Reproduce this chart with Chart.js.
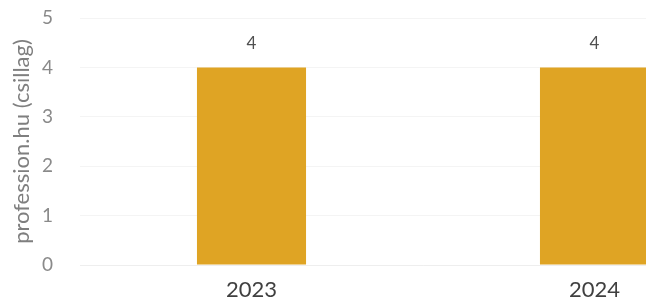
<!DOCTYPE html>
<html>
<head>
<meta charset="utf-8">
<script src="https://cdn.jsdelivr.net/npm/chart.js@4"></script>
<style>
    html, body { margin: 0; padding: 0; background: #fff; overflow: hidden; }
    #wrap { width: 780px; height: 298px; }
</style>
</head>
<body>
<div id="wrap"><canvas id="chart" width="780" height="298"></canvas></div>
<script>
// ─── Data ───
const years = ['2023', '2024'];
const stars = [4, 4];
const yTicks = [0, 1, 2, 3, 4, 5];

const BAR_COLOR = '#DFA424';
const FONT = "Lato, 'Open Sans', sans-serif";

// value labels above the bars
const valueLabels = {
    id: 'valueLabels',
    afterDatasetsDraw: (chart) => {
        const { ctx } = chart;
        const meta = chart.getDatasetMeta(0);
        ctx.save();
        ctx.font = '17px ' + FONT;
        ctx.fillStyle = '#505050';
        ctx.textAlign = 'center';
        ctx.textBaseline = 'middle';
        meta.data.forEach((bar, i) => {
            ctx.fillText(stars[i], bar.x, bar.y - 24);
        });
        ctx.restore();
    },
};

new Chart(document.getElementById('chart'), {
    type: 'bar',
    data: {
        labels: years,
        datasets: [{
            data: stars,
            backgroundColor: BAR_COLOR,
            borderWidth: 0,
            barPercentage: 0.318,
            categoryPercentage: 1,
        }],
    },
    options: {
        responsive: false,
        animation: false,
        layout: { padding: { top: 18, left: 0, right: 14, bottom: 0 } },
        plugins: {
            legend: { display: false },
            tooltip: { enabled: false },
        },
        scales: {
            x: {
                grid: { display: false },
                border: { color: '#eeeeee' },
                ticks: {
                    color: '#404040',
                    font: { family: FONT, size: 22 },
                    padding: 4,
                },
                afterFit: (s) => { s.height = 33; },
            },
            y: {
                min: 0,
                max: 5,
                afterBuildTicks: (s) => { s.ticks = yTicks.map(v => ({ value: v })); },
                grid: {
                    color: '#f4f4f4',
                    drawTicks: true,
                    tickLength: 27,
                    tickColor: 'rgba(0,0,0,0)',
                },
                border: { display: false },
                ticks: {
                    color: '#8a8a8a',
                    font: { family: FONT, size: 19 },
                    padding: 0,
                },
                title: {
                    display: true,
                    text: 'profession.hu (csillag)',
                    color: '#7f7f7f',
                    font: { family: FONT, size: 22 },
                    padding: { top: 9, bottom: 0 },
                },
                afterFit: (s) => { s.width = 80; },
            },
        },
    },
    plugins: [valueLabels],
});
</script>
</body>
</html>
